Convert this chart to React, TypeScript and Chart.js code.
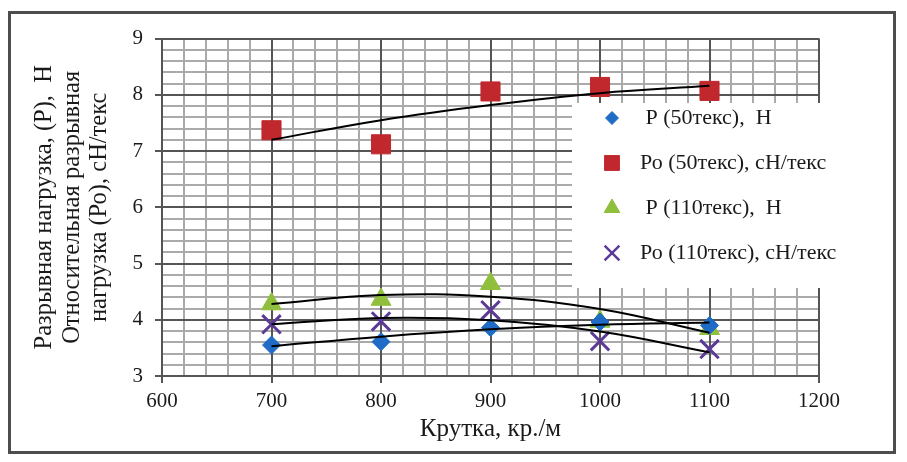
import { useEffect, useRef } from "react"
import { Chart, registerables, type ChartConfiguration, type Plugin } from "chart.js"
import { drawPoint } from "chart.js/helpers"

Chart.register(...registerables)

// Крутка, кр./м
const twist = [700, 800, 900, 1000, 1100]

// measured points
const p50 = [3.55, 3.61, 3.86, 3.96, 3.9]
const po50 = [7.37, 7.12, 8.06, 8.14, 8.07]
const p110 = [4.28, 4.36, 4.64, 3.97, 3.84]
const po110 = [3.92, 3.97, 4.17, 3.62, 3.48]

// polynomial trendlines
const p50Trend = [3.53, 3.7, 3.83, 3.91, 3.95]
const po50Trend = [7.2, 7.55, 7.82, 8.03, 8.16]
const p110Trend = [4.28, 4.44, 4.41, 4.19, 3.77]
const po110Trend = [3.92, 4.03, 3.99, 3.79, 3.42]

const seriesLabels = [" Р (50текс),  Н", "Ро (50текс), сН/текс", " Р (110текс),  Н", "Ро (110текс), сН/текс"]
const seriesColors = ["#1f6bc6", "#c0282d", "#8fbf3c", "#5c3b98"]
const seriesStyles = ["rectRot", "rect", "triangle", "crossRot"] as const
const pointRadius = [9, 13.5, 11.5, 13]
const legendRadius = [6.5, 10.5, 9, 10.5]

const FONT = "'Liberation Serif', 'Times New Roman', serif"

const toPoints = (ys: number[]) => ys.map((y, i) => ({ x: twist[i], y }))

const legendPlugin: Plugin<"scatter"> = {
  id: "insideLegend",
  afterDatasetsDraw(chart) {
    const { ctx } = chart
    ctx.save()
    ctx.fillStyle = "#ffffff"
    ctx.fillRect(561, 89, 290, 185)
    ctx.font = `22px ${FONT}`
    ctx.textBaseline = "middle"
    seriesLabels.forEach((label, i) => {
      const y = 104 + i * 45
      ctx.fillStyle = seriesColors[i]
      ctx.strokeStyle = seriesColors[i]
      ctx.lineWidth = i === 3 ? 2.5 : 1
      drawPoint(ctx, { pointStyle: seriesStyles[i], radius: legendRadius[i], rotation: 0, borderWidth: i === 3 ? 2.5 : 1 }, 601, y)
      ctx.fillStyle = "#1a1a1a"
      ctx.fillText(label, 629, y)
    })
    ctx.restore()
  },
}

export default function App() {
  const canvasRef = useRef<HTMLCanvasElement>(null)
  const chartRef = useRef<Chart | null>(null)

  useEffect(() => {
    if (!canvasRef.current) return
    if (chartRef.current) chartRef.current.destroy()

    const markers = [p50, po50, p110, po110].map((ys, i) => ({
      label: seriesLabels[i],
      data: toPoints(ys),
      showLine: false,
      pointStyle: seriesStyles[i],
      pointRadius: pointRadius[i],
      pointBackgroundColor: seriesColors[i],
      pointBorderColor: seriesColors[i],
      pointBorderWidth: i === 3 ? 3 : 1,
      order: 1,
    }))

    const trends = [p50Trend, po50Trend, p110Trend, po110Trend].map((ys) => ({
      label: "trend",
      data: toPoints(ys),
      showLine: true,
      borderColor: "#000000",
      borderWidth: 2,
      tension: 0.4,
      pointRadius: 0,
      order: 0,
    }))

    const config: ChartConfiguration<"scatter"> = {
      type: "scatter",
      data: { datasets: [...trends, ...markers] },
      options: {
        responsive: true,
        maintainAspectRatio: false,
        animation: false,
        layout: { padding: { top: 14, right: 74, left: 0, bottom: 0 } },
        plugins: {
          legend: { display: false },
          tooltip: { enabled: false },
        },
        scales: {
          x: {
            type: "linear",
            position: "bottom",
            min: 600,
            max: 1200,
            ticks: {
              stepSize: 100,
              padding: 6,
              color: "#1a1a1a",
              font: { family: FONT, size: 21 },
              callback: (v) => String(v),
            },
            grid: { color: "#555555", lineWidth: 2, tickLength: 7 },
            border: { display: true, color: "#555555", width: 2 },
            title: {
              display: true,
              text: "Крутка, кр./м",
              color: "#1a1a1a",
              font: { family: FONT, size: 25, lineHeight: 1.2 },
              padding: { top: 0, bottom: 7 },
            },
            afterFit: (scale) => {
              scale.height = 75
            },
          },
          x2: {
            type: "linear",
            position: "bottom",
            min: 600,
            max: 1200,
            ticks: { display: false, stepSize: 20 },
            grid: { color: "#aaaaaa", lineWidth: 2, drawTicks: false, z: -2 },
            border: { display: false },
            afterFit: (scale) => {
              scale.height = 0
            },
          },
          y: {
            type: "linear",
            position: "left",
            min: 3,
            max: 9,
            ticks: {
              stepSize: 1,
              padding: 12,
              color: "#1a1a1a",
              font: { family: FONT, size: 21 },
              callback: (v) => String(v),
            },
            grid: { color: "#555555", lineWidth: 2, tickLength: 7 },
            border: { display: true, color: "#555555", width: 2 },
            title: {
              display: true,
              text: ["Разрывная нагрузка, (Р),  Н", "Относительная разрывная", "нагрузка (Ро), сН/текс"],
              color: "#1a1a1a",
              font: { family: FONT, size: 24.5, lineHeight: 1.12 },
              padding: { top: 20, bottom: 0 },
            },
            afterFit: (scale) => {
              scale.width = 151
            },
          },
          y2: {
            type: "linear",
            position: "left",
            min: 3,
            max: 9,
            ticks: { display: false, stepSize: 0.2 },
            grid: { color: "#aaaaaa", lineWidth: 2, drawTicks: false, z: -2 },
            border: { display: false },
            afterFit: (scale) => {
              scale.width = 0
            },
          },
        },
      },
      plugins: [legendPlugin],
    }

    chartRef.current = new Chart(canvasRef.current, config)

    return () => {
      if (chartRef.current) {
        chartRef.current.destroy()
        chartRef.current = null
      }
    }
  }, [])

  return (
    <div
      style={{
        position: "absolute",
        left: 8,
        top: 11,
        width: 888,
        height: 443,
        boxSizing: "border-box",
        border: "3px solid #4d4d4d",
        background: "#ffffff",
      }}
    >
      <div style={{ position: "relative", width: "100%", height: "100%" }}>
        <canvas ref={canvasRef} />
      </div>
    </div>
  )
}
